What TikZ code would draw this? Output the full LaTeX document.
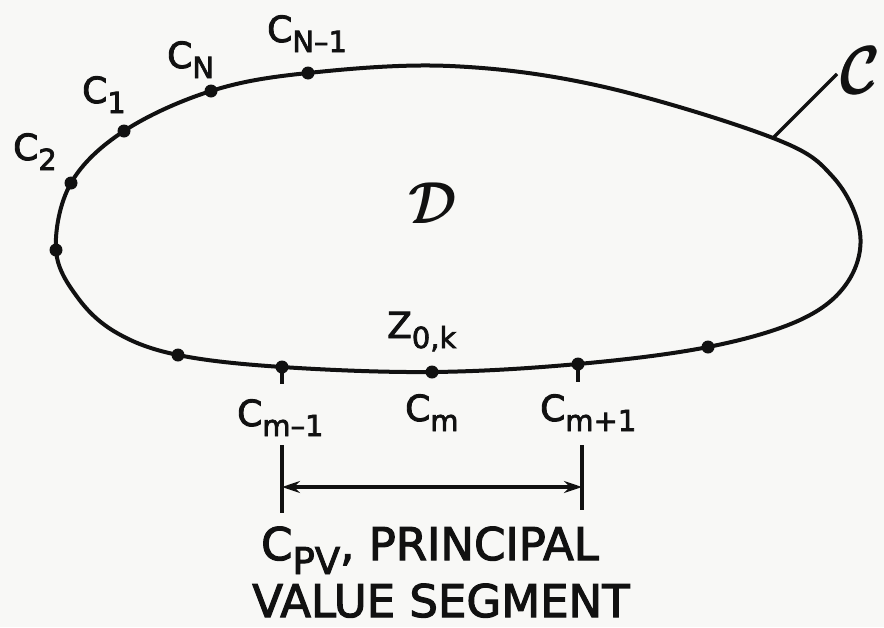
\documentclass[tikz,border=0pt]{standalone}
\usepackage{amsmath}
\usepackage{fontspec}
\setmainfont{DejaVu Sans}[FakeBold=2.5]
\usetikzlibrary{arrows.meta, positioning, calc}
\definecolor{inkBlack}{HTML}{111111}
\definecolor{paperGray}{HTML}{F8F8F6}
\newcommand{\subfnt}{\fontsize{29}{30}\selectfont}
\newcommand{\sublbl}[2]{#1\raisebox{-10pt}{\subfnt #2}}
\newcommand{\bigsublbl}[2]{#1\raisebox{-14pt}{\fontsize{37}{38}\selectfont #2}}
\tikzset{
  contour/.style={draw=inkBlack, line width=4pt},
  thinline/.style={draw=inkBlack, line width=3.2pt},
  arrowDim/.style={{Stealth[length=18pt, width=12pt]}-{Stealth[length=18pt, width=12pt]},
                   draw=inkBlack, line width=3.2pt},
  lbl/.style={anchor=base west, inner sep=0pt, text=inkBlack,
              font=\fontsize{36}{40}\selectfont},
  segtext/.style={anchor=base, inner sep=0pt, text=inkBlack,
                  font=\fontsize{45}{57}\selectfont},
  scriptlbl/.style={inner sep=0pt, text=inkBlack, font=\normalsize},
}
\begin{document}
\begin{tikzpicture}[x=1pt, y=-1pt]
  \fill[paperGray] (0,0) rectangle (884,627);
  \useasboundingbox (0,0) rectangle (884,627);
  % points on the contour C
  \coordinate (p2) at (56,250);
  \coordinate (c2) at (71,183);
  \coordinate (c1) at (124,131);
  \coordinate (cN) at (211,91);
  \coordinate (cNm1) at (308,73);
  \coordinate (t1) at (450,66);
  \coordinate (t2) at (600,86);
  \coordinate (lead) at (773,138);
  \coordinate (r1) at (833,177);
  \coordinate (r2) at (860,233);
  \coordinate (r3) at (847,283);
  \coordinate (r4) at (800,320);
  \coordinate (p1) at (708,347);
  \coordinate (cmp1) at (578,364);
  \coordinate (cm) at (432,372);
  \coordinate (cmm1) at (282,367);
  \coordinate (p0) at (178,355);
  \coordinate (l2) at (117,333);
  \coordinate (l1) at (78,298);
  \draw[contour] plot[smooth cycle, tension=0.6] coordinates {(p2) (c2) (c1) (cN)
    (cNm1) (t1) (t2) (lead) (r1) (r2) (r3) (r4) (p1) (cmp1) (cm) (cmm1) (p0) (l2) (l1)};
  \foreach \p in {p2, c2, c1, cN, cNm1, p1, cmp1, cm, cmm1, p0}
    \fill[inkBlack] (\p) circle[radius=6.5pt];

  % labels on the contour
  \node[lbl] (lCNm1) at (267,42) {\sublbl{C}{N–1}};
  \node[lbl] (lCN) at (167,68) {\sublbl{C}{N}};
  \node[lbl] (lC1) at (82,103) {\sublbl{C}{1}};
  \node[lbl] (lC2) at (13,160) {\sublbl{C}{2}};
  \node[lbl] (lZ) at (387,338) {\sublbl{Z}{0,k}};
  \node[lbl] (lCmm1) at (237,426) {\sublbl{C}{m–1}};
  \node[lbl] (lCm) at (405,421) {\sublbl{C}{m}};
  \node[lbl] (lCmp1) at (540,421) {\sublbl{C}{m+1}};
  \node[scriptlbl, scale=5.8] (dom) at (434,203) {$\pmb{\mathcal{D}}$};
  \node[scriptlbl, scale=6.5] (crv) at (862,70) {$\pmb{\mathcal{C}}$};
  \coordinate (ctip) at (837,74);
  \draw[thinline] (lead) -- (ctip);

  % principal value segment
  \coordinate (tkL) at (282,384);
  \coordinate (tkR) at (578,382);
  \draw[thinline] (cmm1) -- (tkL);
  \draw[thinline] (cmp1) -- (tkR);
  \coordinate (dL1) at (282,445);
  \coordinate (dL2) at (282,513);
  \coordinate (dR1) at (582,445);
  \coordinate (dR2) at (582,510);
  \coordinate (aL) at (282,487);
  \coordinate (aR) at (582,487);
  \draw[thinline] (dL1) -- (dL2);
  \draw[thinline] (dR1) -- (dR2);
  \draw[arrowDim] (aL) -- (aR);
  \node[segtext] (seg1) at (430,560) {\bigsublbl{C}{PV}, PRINCIPAL};
  \node[segtext] (seg2) at (441,617) {VALUE SEGMENT};
\end{tikzpicture}
\end{document}
